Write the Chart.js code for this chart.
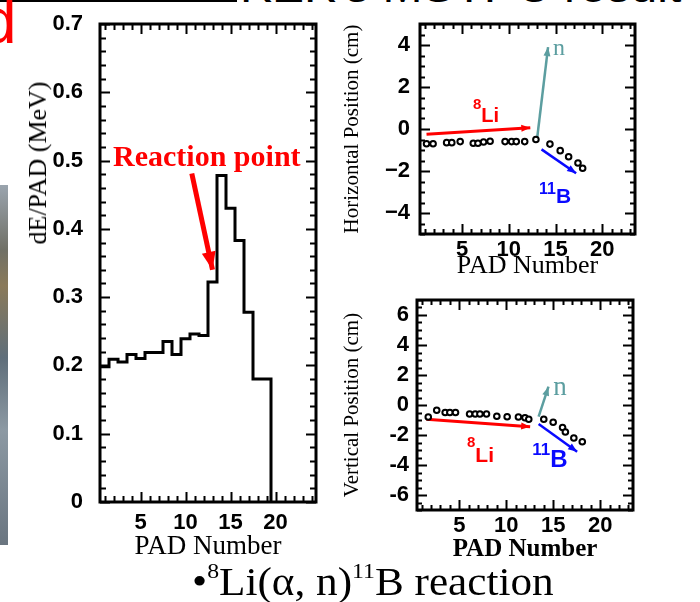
<!DOCTYPE html>
<html>
<head>
<meta charset="utf-8">
<script src="https://cdn.jsdelivr.net/npm/chart.js@4.4.0/dist/chart.umd.min.js"></script>
<style>
  body { margin: 0; background: #fff; }
  #page { position: relative; width: 700px; height: 602px; overflow: hidden; background: #fff; }
  canvas { position: absolute; }
  .topline { position: absolute; left: 0; top: 0; width: 237px; height: 2px; background: #000; }
  .title { position: absolute; left: 240px; top: -38px; font: 48px "Liberation Sans", Arial, sans-serif; line-height: 1; white-space: nowrap; color: #000; }
  .mark { position: absolute; left: -19px; top: -11px; font: 64px "Liberation Sans", Arial, sans-serif; line-height: 1; color: #f00; }
  .photo { position: absolute; left: 0; top: 185px; width: 8px; height: 360px;
    background: linear-gradient(to bottom, #9aa4ae 0%, #707066 18%, #8a7a5a 28%, #5f6e7a 48%, #8c99a3 68%, #6a7580 100%); }
  .ytitle { position: absolute; left: 38px; top: 163px; transform: translate(-50%, -50%) rotate(-90deg);
    font: 26px "Liberation Serif", "Times New Roman", serif; line-height: 1; white-space: nowrap; color: #000; }
  .caption { position: absolute; left: 192px; top: 562px; font: 40px "Liberation Serif", "Times New Roman", serif; line-height: 1;
    white-space: nowrap; color: #000; transform: scaleX(1.08); transform-origin: 0 0; }
  .caption sup { font-size: 22px; vertical-align: 0; position: relative; top: -17px; }
</style>
</head>
<body>
<div id="page">
  <div class="topline"></div>
  <div class="title">KEK's MSTPC result</div>
  <div class="mark">d</div>
  <div class="photo"></div>
  <canvas id="dedx" width="330" height="580" style="left:0;top:0"></canvas>
  <div class="ytitle">dE/PAD (MeV)</div>
  <canvas id="horiz" width="370" height="290" style="left:330px;top:0"></canvas>
  <canvas id="vert" width="370" height="290" style="left:330px;top:280px"></canvas>
  <div class="caption">&bull;<sup>8</sup>Li(&alpha;, n)<sup>11</sup>B reaction</div>
</div>
<script>
// energy loss per pad (histogram, one bin per pad)
const padNumbers = [1, 2, 3, 4, 5, 6, 7, 8, 9, 10, 11, 12, 13, 14, 15, 16, 17, 18, 19];
const dePerPad = [0.198, 0.198, 0.209, 0.205, 0.216, 0.210, 0.219, 0.219, 0.235, 0.216,
                  0.239, 0.246, 0.244, 0.322, 0.478, 0.430, 0.383, 0.278, 0.180];
const padTicks = [5, 10, 15, 20];
const deTicks = [0, 0.1, 0.2, 0.3, 0.4, 0.5, 0.6, 0.7];

// track hits, horizontal view
const hPadX = [1.2, 1.9, 3.35, 3.9, 4.8, 6.2, 6.7, 7.3, 8.0, 9.6, 10.3, 10.8, 11.7, 12.9,
               14.4, 15.5, 16.4, 17.4, 17.9];
const hPos = [-0.7, -0.7, -0.65, -0.65, -0.6, -0.68, -0.68, -0.62, -0.58, -0.6, -0.6, -0.6, -0.6, -0.5,
              -0.72, -1.03, -1.32, -1.62, -1.87];
const hTicks = [-4, -2, 0, 2, 4];

// track hits, vertical view
const vPadX = [1.7, 2.6, 3.5, 4.0, 4.6, 6.1, 6.7, 7.2, 7.9, 9.0, 10.1, 11.3, 12.0, 12.4,
               14.0, 15.0, 16.0, 16.3, 17.2, 18.1];
const vPos = [-0.8, -0.35, -0.5, -0.5, -0.5, -0.6, -0.6, -0.6, -0.6, -0.75, -0.78, -0.8, -0.85, -0.95,
              -0.95, -1.15, -1.5, -1.8, -2.2, -2.45];
const vTicks = [-6, -4, -2, 0, 2, 4, 6];

// arrows, [pad, value] start and end
const reactionArrow = [[10.7, 0.481], [13.0, 0.34]];
const hLiTrack = [[1.2, -0.25], [12.3, 0.06]];
const hNTrack = [[13.05, -0.37], [14.2, 3.9]];
const hBTrack = [[13.5, -0.97], [17.2, -2.11]];
const vLiTrack = [[1.5, -0.95], [12.55, -1.45]];
const vNTrack = [[13.45, -0.78], [14.5, 1.22]];
const vBTrack = [[13.45, -1.27], [17.55, -3.11]];

const RED = '#ff0000', TEAL = '#5c9ea0', BLUE = '#0a0aff';
const SANS = '"Liberation Sans", Arial, sans-serif';
const SERIF = '"Liberation Serif", "Times New Roman", serif';

const pts = (xs, ys) => xs.map((x, i) => ({ x, y: ys[i] }));
const seg = s => s.map(([x, y]) => ({ x, y }));

function histPoints() {
  const p = padNumbers.map((c, i) => ({ x: c - 0.5, y: dePerPad[i] }));
  const last = padNumbers[padNumbers.length - 1] + 0.5;
  p.push({ x: last, y: dePerPad[dePerPad.length - 1] }, { x: last, y: 0 });
  return p;
}

// frame with inward ticks on all four sides
function framePlugin(cfg) {
  return {
    id: 'frame',
    afterDatasetsDraw(chart) {
      const { ctx, chartArea: a, scales: { x, y } } = chart;
      ctx.save();
      ctx.strokeStyle = '#000';
      ctx.lineWidth = 2;
      const marks = (scale, step, major, horiz) => {
        const i0 = Math.ceil(scale.min / step - 1e-6), i1 = Math.floor(scale.max / step + 1e-6);
        for (let i = i0; i <= i1; i++) {
          const v = i * step;
          const r = v / major;
          const len = Math.abs(r - Math.round(r)) < 1e-6 ? cfg.major : cfg.minor;
          const p = Math.round(scale.getPixelForValue(v)) + 0.5;
          ctx.beginPath();
          if (horiz) {
            ctx.moveTo(p, a.bottom); ctx.lineTo(p, a.bottom - len);
            ctx.moveTo(p, a.top); ctx.lineTo(p, a.top + len);
          } else {
            ctx.moveTo(a.left, p); ctx.lineTo(a.left + len, p);
            ctx.moveTo(a.right, p); ctx.lineTo(a.right - len, p);
          }
          ctx.stroke();
        }
      };
      marks(x, cfg.xStep, cfg.xMajor, true);
      marks(y, cfg.yStep, cfg.yMajor, false);
      ctx.lineWidth = 3;
      ctx.strokeRect(a.left, a.top, a.right - a.left, a.bottom - a.top);
      ctx.restore();
    }
  };
}

// arrow heads at the end of datasets flagged with "head"
const arrowPlugin = {
  id: 'arrowHeads',
  afterDatasetsDraw(chart) {
    const ctx = chart.ctx;
    chart.data.datasets.forEach((ds, i) => {
      if (!ds.head) return;
      const el = chart.getDatasetMeta(i).data;
      const a = el[el.length - 2], b = el[el.length - 1];
      const ang = Math.atan2(b.y - a.y, b.x - a.x);
      const [len, w] = ds.head;
      ctx.save();
      ctx.fillStyle = ds.borderColor;
      ctx.translate(b.x, b.y);
      ctx.rotate(ang);
      ctx.beginPath();
      ctx.moveTo(0, 0);
      ctx.lineTo(-len, -w / 2);
      ctx.lineTo(-len, w / 2);
      ctx.closePath();
      ctx.fill();
      ctx.restore();
    });
  }
};

// text labels placed in data coordinates
function notesPlugin(items) {
  return {
    id: 'notes',
    afterDraw(chart) {
      const { ctx, scales: { x, y } } = chart;
      items.forEach(n => {
        let px = x.getPixelForValue(n.x);
        const py = y.getPixelForValue(n.y);
        ctx.save();
        ctx.fillStyle = n.color;
        ctx.textAlign = 'left';
        ctx.textBaseline = 'alphabetic';
        if (n.sup) {
          ctx.font = n.supFont;
          ctx.fillText(n.sup, px, py - n.rise);
          px += ctx.measureText(n.sup).width;
        }
        ctx.font = n.font;
        ctx.fillText(n.text, px, py);
        ctx.restore();
      });
    }
  };
}

function lineSet(data, color, width, head) {
  return { data, showLine: true, borderColor: color, backgroundColor: color, borderWidth: width,
           pointRadius: 0, fill: false, head };
}
function hitSet(data) {
  return { data, showLine: false, pointRadius: 2.8, pointBorderWidth: 2,
           pointBorderColor: '#000', pointBackgroundColor: '#fff' };
}

function axes(o) {
  return {
    x: {
      type: 'linear', min: o.xMin, max: o.xMax,
      grid: { display: false, drawTicks: false }, border: { display: false },
      afterBuildTicks: s => { s.ticks = padTicks.map(v => ({ value: v })); },
      afterFit: s => { s.height = o.xHeight; s.paddingLeft = 0; s.paddingRight = 0; },
      ticks: { autoSkip: false, maxRotation: 0, padding: o.xPad, color: '#000',
               font: { family: SANS, size: 22, weight: 'bold' } },
      title: { display: true, text: 'PAD Number', color: '#000',
               font: { family: SERIF, size: o.xTitleSize, weight: o.xTitleWeight || 'normal' },
               padding: { top: 0, bottom: o.xTitlePad } }
    },
    y: {
      type: 'linear', min: o.yMin, max: o.yMax,
      grid: { display: false, drawTicks: false }, border: { display: false },
      afterBuildTicks: s => { s.ticks = o.yTicks.map(v => ({ value: v })); },
      afterFit: s => { s.width = o.yWidth; s.paddingTop = 0; s.paddingBottom = 0; },
      ticks: { autoSkip: false, padding: o.yPad, color: '#000', callback: o.yFmt,
               font: { family: SANS, size: 22, weight: 'bold' } },
      title: { display: !!o.yTitle, text: o.yTitle, color: '#000',
               font: { family: SERIF, size: 21 }, padding: { top: 10, bottom: 0 } }
    }
  };
}

const baseOpts = {
  responsive: false, animation: false, events: [],
  plugins: { legend: { display: false }, tooltip: { enabled: false } }
};

// dE/PAD histogram
new Chart(document.getElementById('dedx'), {
  type: 'scatter',
  data: { datasets: [
    { data: histPoints(), showLine: true, stepped: 'after', borderColor: '#000', borderWidth: 3,
      pointRadius: 0, fill: false },
    lineSet(seg(reactionArrow), RED, 5, [18, 14])
  ] },
  options: { ...baseOpts,
    layout: { padding: { top: 24, right: 14, left: 0, bottom: 0 } },
    scales: axes({ xMin: 0.5, xMax: 24.5, xHeight: 78, xPad: 8, xTitleSize: 27, xTitlePad: 17,
                   yMin: 0, yMax: 0.7, yTicks: deTicks, yWidth: 100, yPad: 17,
                   yFmt: v => (v === 0 ? '0' : v.toFixed(1)) })
  },
  plugins: [
    framePlugin({ xStep: 1, xMajor: 5, yStep: 0.02, yMajor: 0.1, major: 10, minor: 6 }),
    arrowPlugin,
    notesPlugin([{ x: 1.95, y: 0.492, text: 'Reaction point', color: RED, font: 'bold 30px ' + SERIF }])
  ]
});

// horizontal position
new Chart(document.getElementById('horiz'), {
  type: 'scatter',
  data: { datasets: [
    hitSet(pts(hPadX, hPos)),
    lineSet(seg(hLiTrack), RED, 3, [9, 7]),
    lineSet(seg(hNTrack), TEAL, 2.5, [9, 7]),
    lineSet(seg(hBTrack), BLUE, 2.5, [9, 7])
  ] },
  options: { ...baseOpts,
    layout: { padding: { top: 24, right: 65, left: 0, bottom: 0 } },
    scales: axes({ xMin: 0.5, xMax: 23.5, xHeight: 56, xPad: 3, xTitleSize: 26, xTitlePad: 8,
                   yMin: -5, yMax: 5, yTicks: hTicks, yWidth: 90, yPad: 10,
                   yTitle: 'Horizontal Position (cm)',
                   yFmt: v => String(v).replace('-', '\u2212') })
  },
  plugins: [
    framePlugin({ xStep: 1, xMajor: 5, yStep: 0.5, yMajor: 2, major: 10, minor: 5 }),
    arrowPlugin,
    notesPlugin([
      { x: 6.17, y: 0.33, sup: '8', supFont: 'bold 15px ' + SANS, rise: 13, text: 'Li', font: 'bold 20px ' + SANS, color: RED },
      { x: 14.72, y: 3.52, text: 'n', font: '24px ' + SERIF, color: TEAL },
      { x: 13.23, y: -3.52, sup: '11', supFont: 'bold 16px ' + SANS, rise: 9, text: 'B', font: 'bold 21px ' + SANS, color: BLUE }
    ])
  ]
});

// vertical position
new Chart(document.getElementById('vert'), {
  type: 'scatter',
  data: { datasets: [
    hitSet(pts(vPadX, vPos)),
    lineSet(seg(vLiTrack), RED, 3, [9, 7]),
    lineSet(seg(vNTrack), TEAL, 2.5, [9, 7]),
    lineSet(seg(vBTrack), BLUE, 2.5, [9, 7])
  ] },
  options: { ...baseOpts,
    layout: { padding: { top: 20, right: 67, left: 0, bottom: 0 } },
    scales: axes({ xMin: 0.5, xMax: 23.5, xHeight: 60, xPad: 3, xTitleSize: 25, xTitleWeight: 'bold', xTitlePad: 5,
                   yMin: -7, yMax: 7, yTicks: vTicks, yWidth: 87, yPad: 8,
                   yTitle: 'Vertical Position (cm)',
                   yFmt: v => String(v) })
  },
  plugins: [
    framePlugin({ xStep: 1, xMajor: 5, yStep: 0.5, yMajor: 2, major: 10, minor: 5 }),
    arrowPlugin,
    notesPlugin([
      { x: 5.82, y: -3.8, sup: '8', supFont: 'bold 15px ' + SANS, rise: 15, text: 'Li', font: 'bold 21px ' + SANS, color: RED },
      { x: 15.0, y: 0.67, text: 'n', font: '27px ' + SERIF, color: TEAL },
      { x: 12.77, y: -4.13, sup: '11', supFont: 'bold 17px ' + SANS, rise: 12, text: 'B', font: 'bold 24px ' + SANS, color: BLUE }
    ])
  ]
});
</script>
</body>
</html>
